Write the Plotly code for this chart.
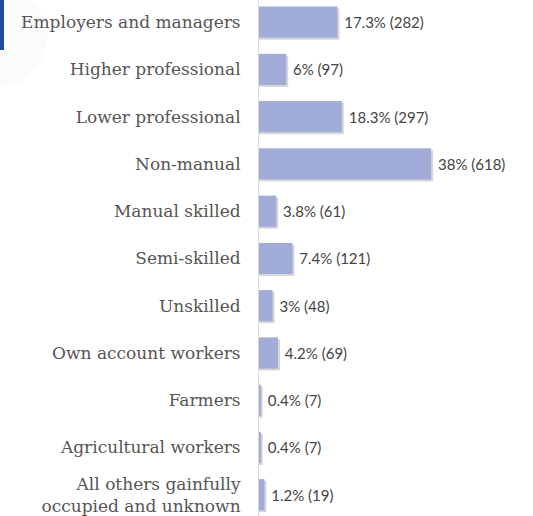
import plotly.graph_objects as go

categories = [
    "Employers and managers",
    "Higher professional",
    "Lower professional",
    "Non-manual",
    "Manual skilled",
    "Semi-skilled",
    "Unskilled",
    "Own account workers",
    "Farmers",
    "Agricultural workers",
    "All others gainfully<br>occupied and unknown",
]
percent = [17.3, 6, 18.3, 38, 3.8, 7.4, 3, 4.2, 0.4, 0.4, 1.2]
counts = [282, 97, 297, 618, 61, 121, 48, 69, 7, 7, 19]

labels = [f"\u00a0{p:g}% ({c})" for p, c in zip(percent, counts)]

W, H = 533, 516
L = 259
PX = 4.53  # pixels per percent
fig = go.Figure()
# subtle drop shadow under each bar
fig.add_trace(go.Bar(
    y=categories, x=[p + 2.0 / PX for p in percent], orientation="h",
    marker=dict(color="rgba(0,0,0,0.16)", line=dict(width=0)),
    width=0.66, offset=-0.29, hoverinfo="skip", showlegend=False,
))
fig.add_trace(go.Bar(
    y=categories, x=percent, orientation="h",
    marker=dict(color="#a1acd9", line=dict(width=0)),
    width=0.66, offset=-0.33,
    text=labels, textposition="outside", cliponaxis=False,
    textfont=dict(family="Lato", size=15, color="#444444"),
    showlegend=False,
))
xr = (W - L) / PX
PW = W - L


def px_x(p):
    return (p - L) / PW


def px_y(p):
    return 1 - p / H


fig.update_layout(
    width=W, height=H,
    margin=dict(l=L, r=0, t=0, b=0),
    paper_bgcolor="white", plot_bgcolor="white",
    barmode="overlay",
    xaxis=dict(range=[0, xr], visible=False, automargin=False),
    yaxis=dict(
        categoryorder="array", categoryarray=categories,
        range=[len(categories) - 0.55, -0.47],
        showgrid=False, showline=True, linecolor="#d9d9d9", linewidth=1,
        ticks="", ticklabelstandoff=14, automargin=False,
        tickfont=dict(family="DejaVu Serif", size=17, color="#555555"),
    ),
    shapes=[
        dict(type="circle", xref="paper", yref="paper", layer="below",
             x0=px_x(-50), x1=px_x(47), y0=px_y(87), y1=px_y(-12),
             fillcolor="#fbfbfb", line=dict(width=0)),
        dict(type="rect", xref="paper", yref="paper",
             x0=px_x(0), x1=px_x(4), y0=px_y(50), y1=px_y(0),
             fillcolor="#1f4aa0", line=dict(width=0)),
    ],
)
fig.write_html("out.html", config={"displayModeBar": False},
               post_script="document.body.style.margin='0';")
